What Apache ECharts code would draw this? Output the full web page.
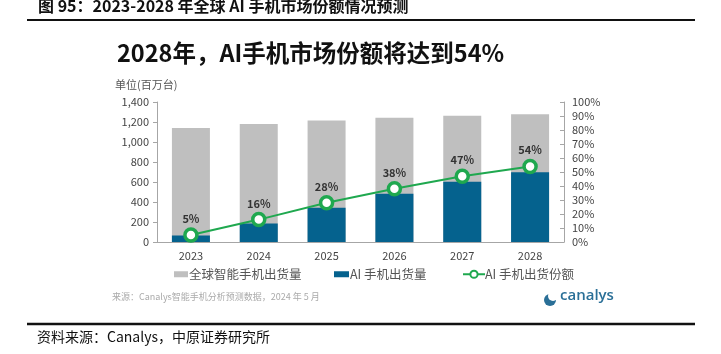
<!DOCTYPE html>
<html>
<head>
<meta charset="utf-8">
<script src="https://cdn.jsdelivr.net/npm/echarts@6/dist/echarts.min.js"></script>
<style>
  html, body { margin: 0; padding: 0; background: #fff; }
  #main { width: 721px; height: 354px; }
</style>
</head>
<body>
<div id="main"></div>
<script>
// data
const years = ["2023", "2024", "2025", "2026", "2027", "2028"];
const totalShipments = [1140, 1180, 1215, 1243, 1263, 1278]; // 全球智能手机出货量 (百万台)
const aiShipments = [64, 186, 343, 482, 602, 698];           // AI 手机出货量 (百万台)
const aiShare = [5, 16, 28, 38, 47, 54];                      // AI 手机出货份额 (%)
const leftTicks = [0, 1400, 200];
const rightTicks = [0, 100, 10];

const FONT = "Noto Sans CJK SC";
const GREEN = "#1fa84f";
const BLUE = "#05628e";
const GRAY = "#bfbfbf";

const chart = echarts.init(document.getElementById("main"));

chart.setOption({
  backgroundColor: "#fff",
  animation: false,
  textStyle: { fontFamily: FONT },
  title: {
    text: "2028年，AI手机市场份额将达到54%",
    left: 112,
    top: 36,
    textStyle: { fontSize: 23.5, fontWeight: "bold", color: "#111", fontFamily: FONT },
  },
  grid: { left: 157, right: 157, top: 102, bottom: 112 },
  legend: [
    {
      data: [{ name: "全球智能手机出货量", icon: "rect" }],
      left: 169, top: 263,
      itemWidth: 14, itemHeight: 6, itemGap: 2,
      textStyle: { fontSize: 12.5, color: "#555", padding: [0, 0, 0, -4] },
    },
    {
      data: [{ name: "AI 手机出货量", icon: "rect" }],
      left: 329, top: 263,
      itemWidth: 15, itemHeight: 6,
      textStyle: { fontSize: 12.5, color: "#555", padding: [0, 0, 0, -4] },
    },
    {
      data: ["AI 手机出货份额"],
      left: 457, top: 263,
      itemWidth: 22, itemHeight: 9,
      textStyle: { fontSize: 12.5, color: "#555", padding: [0, 0, 0, -5] },
    },
  ],
  xAxis: {
    type: "category",
    data: years,
    axisLine: { lineStyle: { color: "#a6a6a6" } },
    axisTick: { show: false },
    axisLabel: { fontSize: 11, color: "#444", margin: 8 },
  },
  yAxis: [
    {
      type: "value",
      min: leftTicks[0], max: leftTicks[1], interval: leftTicks[2],
      name: "单位(百万台)",
      nameLocation: "end",
      nameGap: 12,
      nameTextStyle: { fontSize: 11, color: "#555", align: "left", padding: [0, 0, 0, -42] },
      axisLine: { show: true, lineStyle: { color: "#a6a6a6" } },
      axisTick: { show: true, length: 4, lineStyle: { color: "#a6a6a6" } },
      splitLine: { show: false },
      axisLabel: {
        fontSize: 11, color: "#444", margin: 8,
        formatter: (v) => v.toLocaleString("en"),
      },
    },
    {
      type: "value",
      min: rightTicks[0], max: rightTicks[1], interval: rightTicks[2],
      axisLine: { show: true, lineStyle: { color: "#a6a6a6" } },
      axisTick: { show: true, inside: true, length: 4, lineStyle: { color: "#a6a6a6" } },
      splitLine: { show: false },
      axisLabel: { fontSize: 11, color: "#444", margin: 8, formatter: "{value}%" },
    },
  ],
  series: [
    {
      name: "全球智能手机出货量",
      type: "bar",
      data: totalShipments,
      barWidth: 38,
      itemStyle: { color: GRAY },
    },
    {
      name: "AI 手机出货量",
      type: "bar",
      data: aiShipments,
      barWidth: 38,
      barGap: "-100%",
      itemStyle: { color: BLUE },
    },
    {
      name: "AI 手机出货份额",
      type: "line",
      yAxisIndex: 1,
      data: aiShare,
      symbol: "circle",
      symbolSize: 12,
      lineStyle: { color: GREEN, width: 2 },
      itemStyle: { color: "#fff", borderColor: GREEN, borderWidth: 3.5 },
      label: {
        show: true,
        position: "top",
        distance: 3,
        formatter: "{c}%",
        fontSize: 11,
        fontWeight: "bold",
        color: "#333",
      },
      z: 5,
    },
  ],
  graphic: [
    {
      type: "text",
      left: 38, top: -2,
      style: {
        text: "图 95：2023-2028 年全球 AI 手机市场份额情况预测",
        font: "bold 16px 'Noto Sans CJK SC'",
        fill: "#111",
      },
    },
    {
      type: "line",
      shape: { x1: 27, y1: 20, x2: 695, y2: 20 },
      style: { stroke: "#111", lineWidth: 2 },
    },
    {
      type: "text",
      left: 112, top: 292,
      style: {
        text: "来源：Canalys智能手机分析预测数据，2024 年 5 月",
        font: "9px 'Noto Sans CJK SC'",
        fill: "#aaa",
      },
    },
    {
      type: "circle",
      shape: { cx: 550, cy: 300, r: 6 },
      style: { fill: "#2a6f97" },
    },
    {
      type: "circle",
      shape: { cx: 553, cy: 296, r: 5 },
      style: { fill: "#fff" },
    },
    {
      type: "text",
      left: 560, top: 288,
      style: {
        text: "canalys",
        font: "600 15px 'Open Sans'",
        fill: "#2a6f97",
      },
    },
    {
      type: "line",
      shape: { x1: 27, y1: 324, x2: 695, y2: 324 },
      style: { stroke: "#111", lineWidth: 2.5 },
    },
    {
      type: "text",
      left: 37, top: 330,
      style: {
        text: "资料来源：Canalys，中原证券研究所",
        font: "14px 'Noto Sans CJK SC'",
        fill: "#111",
      },
    },
  ],
});
</script>
</body>
</html>
